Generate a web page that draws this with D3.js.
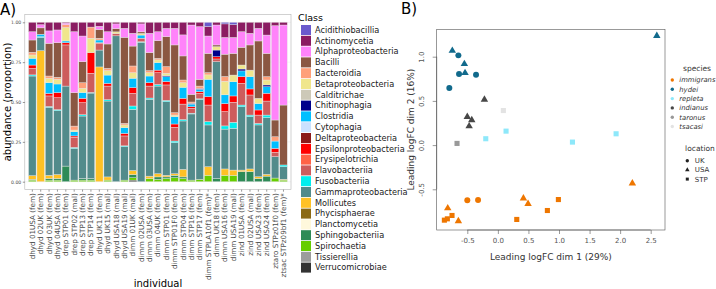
<!DOCTYPE html>
<html>
<head>
<meta charset="utf-8">
<script src="https://cdn.jsdelivr.net/npm/d3@7"></script>
<style>
  body { margin: 0; background: #fff; }
  svg { display: block; font-family: "DejaVu Sans", sans-serif; }
</style>
</head>
<body>
<div id="chart"></div>
<script>
// ---- data: panel A (class composition per individual) ----
const individuals = [
  "dhyd 01USA (fem)", "dhyd 02UK (fem)", "dhyd 03UK (fem)", "dhyd 04USA (fem)",
  "drep STP01 (fem)", "drep STP02 (mal)", "drep STP13 (fem)", "drep STP14 (fem)",
  "dhyd UK11 (fem)", "dhyd UK15 (mal)", "dhyd USA18 (mal)", "dhyd USA19 (mal)",
  "dimm 01UK (mal)", "dimm 02USA (fem)", "dimm 03USA (fem)", "dimm 04UK (fem)",
  "dimm STP01 (fem)", "dimm STP01F0 (fem)", "dimm STP04 (fem)", "dimm STP16 (fem)",
  "dimm STP17 (fem)", "dimm STPLA10f1 (fem)*", "dimm UK18 (fem)", "dimm USA16 (fem)",
  "dimm USA19 (mal)", "zind 01USA (fem)", "zind 02USA (mal)", "zind USA23 (fem)",
  "zind USA24 (fem)", "ztaro STPz01f0 (fem)", "ztsac STPz09bf1 (fem)*"
];

const classes = [
  "Acidithiobacillia", "Actinomycetia", "Alphaproteobacteria", "Bacilli", "Bacteroidia",
  "Betaproteobacteria", "Calditrichae", "Chitinophagia", "Clostridia", "Cytophagia",
  "Deltaproteobacteria", "Epsilonproteobacteria", "Erysipelotrichia", "Flavobacteriia",
  "Fusobacteriia", "Gammaproteobacteria", "Mollicutes", "Phycisphaerae", "Planctomycetia",
  "Sphingobacteriia", "Spirochaetia", "Tissierellia", "Verrucomicrobiae"
];
const classCodes = [
  "Aci", "Act", "Alp", "Bil", "Bac", "Bet", "Cal", "Chi", "Clo", "Cyt", "Del", "Eps",
  "Ery", "Fla", "Fus", "Gam", "Mol", "Phy", "Pla", "Sph", "Spi", "Tis", "Ver"
];
const classColors = [
  "#6a5acd", "#8b1c62", "#ff83fa", "#8b5742", "#ffa07a", "#f0e68c", "#cdc9b8", "#00008b",
  "#00bfff", "#cae1ff", "#8b1a1a", "#ff0000", "#ff6347", "#cd5c5c", "#00eeee", "#528b8b",
  "#ffc125", "#8b6914", "#fff8dc", "#2e8b57", "#66cd00", "#9c9c9c", "#333333"
];

// upper edge of each coloured segment, read bottom to top, one list per individual
const segmentTops = [
  [["Sph",.005],["Spi",.015],["Mol",.038],["Gam",.663],["Fus",.67],["Fla",.711],["Eps",.732],["Clo",.774],["Bet",.795],["Bac",.812],["Bil",.889],["Alp",.941],["Act",1]],
  [["Mol",.822],["Gam",.905],["Fus",.91],["Clo",.925],["Bil",.965],["Alp",.985],["Act",1]],
  [["Spi",.01],["Sph",.02],["Mol",.04],["Gam",.467],["Fus",.472],["Fla",.538],["Eps",.554],["Clo",.621],["Bet",.649],["Bac",.663],["Bil",.868],["Alp",.946],["Act",1]],
  [["Spi",.01],["Sph",.02],["Mol",.045],["Gam",.446],["Fus",.452],["Fla",.527],["Eps",.559],["Clo",.613],["Bet",.642],["Bac",.655],["Bil",.872],["Alp",.952],["Act",1]],
  [["Sph",.098],["Gam",.6],["Fla",.858],["Eps",.872],["Clo",.883],["Bet",.967],["Bac",.985],["Alp",.995],["Act",1]],
  [["Spi",.01],["Gam",.209],["Fus",.215],["Fla",.278],["Eps",.287],["Clo",.314],["Bet",.324],["Bac",.349],["Bil",.559],["Alp",.941],["Act",1]],
  [["Spi",.01],["Sph",.02],["Gam",.412],["Fus",.42],["Fla",.496],["Eps",.523],["Clo",.559],["Bet",.586],["Bac",.621],["Bil",.753],["Alp",.914],["Act",1]],
  [["Spi",.01],["Sph",.02],["Gam",.556],["Fus",.56],["Fla",.68],["Eps",.81],["Bet",.9],["Bac",.97],["Act",1]],
  [["Mol",.72],["Gam",.826],["Fla",.868],["Eps",.872],["Clo",.889],["Bac",.9],["Bil",.955],["Alp",.975],["Act",1]],
  [["Spi",.01],["Mol",.03],["Gam",.506],["Fus",.515],["Fla",.6],["Eps",.617],["Clo",.669],["Bet",.697],["Bac",.711],["Bil",.864],["Alp",.941],["Act",1]],
  [["Gam",.915],["Fla",.93],["Bet",.94],["Bil",.96],["Alp",.99],["Act",1]],
  [["Spi",.01],["Gam",.22],["Fus",.225],["Fla",.287],["Eps",.303],["Clo",.339],["Bet",.356],["Bac",.366],["Bil",.906],["Alp",.962],["Act",1]],
  [["Ver",.01],["Spi",.025],["Sph",.045],["Mol",.07],["Gam",.454],["Fus",.475],["Fla",.554],["Eps",.59],["Clo",.649],["Bet",.684],["Bac",.726],["Bil",.851],["Alp",.931],["Act",1]],
  [["Gam",.875],["Fus",.878],["Fla",.9],["Clo",.92],["Bet",.93],["Bil",.94],["Alp",.99],["Act",1]],
  [["Spi",.02],["Mol",.035],["Gam",.517],["Fus",.525],["Fla",.6],["Eps",.621],["Clo",.663],["Bet",.684],["Bac",.697],["Bil",.81],["Alp",.931],["Act",1]],
  [["Spi",.015],["Sph",.03],["Mol",.05],["Gam",.6],["Fus",.61],["Fla",.684],["Eps",.7],["Clo",.747],["Bet",.764],["Bac",.774],["Bil",.885],["Alp",.941],["Act",1]],
  [["Spi",.02],["Sph",.03],["Mol",.04],["Gam",.502],["Fus",.51],["Fla",.607],["Eps",.628],["Clo",.659],["Chi",.665],["Bet",.68],["Bac",.722],["Bil",.91],["Alp",.962],["Act",1]],
  [["Spi",.025],["Sph",.04],["Mol",.05],["Gam",.245],["Fus",.255],["Fla",.341],["Eps",.362],["Clo",.408],["Bet",.418],["Bac",.433],["Bil",.858],["Alp",.962],["Act",1]],
  [["Spi",.02],["Sph",.03],["Mol",.077],["Gam",.381],["Fus",.39],["Fla",.487],["Eps",.523],["Clo",.592],["Bet",.621],["Bac",.638],["Bil",.789],["Alp",.921],["Act",1]],
  [["Spi",.01],["Gam",.425],["Fus",.43],["Fla",.46],["Eps",.47],["Clo",.487],["Chi",.492],["Bac",.5],["Bil",.548],["Alp",.983],["Act",1]],
  [["Spi",.015],["Gam",.517],["Fus",.52],["Fla",.554],["Eps",.565],["Clo",.58],["Chi",.585],["Bac",.6],["Bil",.642],["Alp",.973],["Act",1]],
  [["Spi",.04],["Mol",.094],["Gam",.356],["Fus",.377],["Fla",.481],["Eps",.533],["Clo",.642],["Bet",.67],["Bac",.684],["Bil",.805],["Alp",.914],["Act",.973],["Aci",1]],
  [["Sph",.02],["Gam",.753],["Fla",.77],["Eps",.784],["Chi",.826],["Bet",.847],["Bil",.858],["Alp",.983],["Act",1]],
  [["Spi",.04],["Mol",.08],["Gam",.33],["Fus",.35],["Fla",.44],["Eps",.49],["Clo",.545],["Bet",.63],["Bac",.66],["Bil",.8],["Alp",.905],["Act",.99],["Aci",1]],
  [["Spi",.04],["Mol",.073],["Gam",.335],["Fus",.373],["Fla",.498],["Eps",.538],["Clo",.627],["Bet",.669],["Bil",.805],["Alp",.905],["Act",.985],["Aci",1]],
  [["Sph",.063],["Mol",.073],["Gam",.47],["Fus",.481],["Fla",.617],["Eps",.659],["Clo",.695],["Chi",.707],["Bet",.732],["Bil",.843],["Alp",.941],["Act",1]],
  [["Sph",.063],["Mol",.08],["Gam",.408],["Fus",.418],["Fla",.544],["Eps",.582],["Clo",.659],["Bet",.7],["Bil",.858],["Alp",.931],["Act",1]],
  [["Sph",.02],["Mol",.031],["Gam",.356],["Fus",.366],["Fla",.418],["Eps",.45],["Clo",.49],["Bet",.523],["Bil",.883],["Alp",.962],["Act",1]],
  [["Sph",.035],["Mol",.046],["Gam",.402],["Fus",.418],["Fla",.506],["Eps",.555],["Clo",.596],["Chi",.607],["Bet",.638],["Bac",.659],["Bil",.805],["Alp",.92],["Act",1]],
  [["Spi",.023],["Gam",.157],["Fla",.184],["Eps",.209],["Clo",.255],["Bac",.282],["Bil",.387],["Alp",.979],["Act",1]],
  [["Spi",.01],["Mol",.015],["Gam",.094],["Fus",.105],["Bil",.481],["Alp",.983],["Act",1]]
];

// ---- data: panel B (MDS plot) ----
const mdsX = [-0.745, -0.646, -0.548, -0.635, -0.537, -0.357, -0.794, 2.6,
  -0.22, -0.5, -0.427, -0.47, 0.09, -0.198, 0.134, 1.22, 1.934, -0.668,
  2.2, -0.5, -0.324, 0.418, 0.494, 0.99, 0.81, 0.309, -0.82, -0.646, -0.75, -0.826, -0.875];
const mdsY = [1.068, 1.015, 0.918, 0.805, 0.816, 0.797, 0.647, 1.237,
  0.515, 0.32, 0.282, 0.214, 0.391, 0.072, 0.158, 0.034, 0.128, 0.019,
  -0.432, -0.623, -0.62, -0.601, -0.665, -0.616, -0.74, -0.841, -0.714, -0.86, -0.796, -0.834, -0.849];
const mdsSpecies = ["hydei", "hydei", "hydei", "hydei", "hydei", "hydei", "hydei", "hydei",
  "indianus", "indianus", "indianus", "indianus", "tsacasi", "repleta", "repleta", "repleta", "repleta", "taronus",
  "immigrans", "immigrans", "immigrans", "immigrans", "immigrans", "immigrans", "immigrans", "immigrans",
  "immigrans", "immigrans", "immigrans", "immigrans", "immigrans"];
const mdsLocation = ["USA", "UK", "USA", "UK", "USA", "UK", "UK", "USA",
  "USA", "USA", "USA", "USA", "STP", "STP", "STP", "STP", "STP", "STP",
  "USA", "UK", "UK", "USA", "USA", "STP", "STP", "STP", "USA", "USA", "STP", "STP", "STP"];

const speciesNames = ["immigrans", "hydei", "repleta", "indianus", "taronus", "tsacasi"];
const speciesColors = ["#ee7600", "#116a8c", "#8ee8fa", "#474747", "#999999", "#e3e3e3"];
const locationNames = ["UK", "USA", "STP"];
const xTicksB = [-0.5, 0, 0.5, 1, 1.5, 2, 2.5];
const yTicksB = [-0.5, 0, 0.5, 1];
const yTicksA = [0, 0.25, 0.5, 0.75, 1];

const svg = d3.select('#chart')
    .append('svg')
    .attr('width', 716)
    .attr('height', 289);

// ================= panel A =================
const xA = d3.scaleBand().domain(individuals).range([24.8, 291]).paddingInner(0.1).paddingOuter(0.45);
const yA = d3.scaleLinear().domain([0, 1]).range([181.7, 22.3]);
const colorA = d3.scaleOrdinal().domain(classCodes).range(classColors);

// turn the read-off segment edges into one row of proportions per individual
const rows = individuals.map(function (ind, i) {
    const row = {individual: ind};
    classCodes.forEach(c => row[c] = 0);
    let prev = 0;
    segmentTops[i].forEach(function (s) {
        row[s[0]] = s[1] - prev;
        prev = s[1];
    });
    return row;
});
// ggplot stacks the first level on top, so the last class sits at the bottom
const stacked = d3.stack().keys(classCodes.slice().reverse())(rows);

const panelTop = yA(1.05), panelBottom = yA(-0.05);

svg.append('rect')
    .attr('x', 24.8).attr('y', panelTop)
    .attr('width', 266.2).attr('height', panelBottom - panelTop)
    .attr('fill', '#fff');

// grid
svg.append('g').selectAll('line')
    .data(yTicksA)
    .enter().append('line')
    .attr('x1', 24.8).attr('x2', 291)
    .attr('y1', d => yA(d)).attr('y2', d => yA(d))
    .attr('stroke', '#ebebeb').attr('stroke-width', 0.5);

svg.append('g')
    .selectAll('g')
    .data(stacked)
    .enter().append('g')
    .attr('fill', d => colorA(d.key))
    .selectAll('rect')
    .data(d => d.filter(p => p[1] - p[0] > 0.0005))
    .enter().append('rect')
    .attr('x', d => xA(d.data.individual))
    .attr('width', xA.bandwidth())
    .attr('y', d => yA(d[1]))
    .attr('height', d => yA(d[0]) - yA(d[1]))
    .attr('stroke', '#e6e6e6')
    .attr('stroke-width', 0.4);

svg.append('rect')
    .attr('x', 24.8).attr('y', panelTop)
    .attr('width', 266.2).attr('height', panelBottom - panelTop)
    .attr('fill', 'none').attr('stroke', '#b3b3b3').attr('stroke-width', 0.6);

const axisLeftA = svg.append('g')
    .attr('transform', 'translate(24.8,0)')
    .call(d3.axisLeft(yA).tickValues(yTicksA).tickFormat(d3.format('.2f')).tickSize(2).tickPadding(1.5))
    .attr('font-family', null);
axisLeftA.select('.domain').remove();
axisLeftA.selectAll('line').attr('stroke', '#333').attr('stroke-width', 0.5);
axisLeftA.selectAll('text').style('font-size', '4.6px').style('fill', '#4d4d4d');

const axisBottomA = svg.append('g')
    .attr('transform', `translate(0,${panelBottom})`)
    .call(d3.axisBottom(xA).tickSize(2))
    .attr('font-family', null);
axisBottomA.select('.domain').remove();
axisBottomA.selectAll('line').attr('stroke', '#333').attr('stroke-width', 0.5);
axisBottomA.selectAll('text')
    .attr('y', 0).attr('x', -3.5).attr('dy', '0.35em')
    .attr('transform', 'rotate(-90)')
    .style('text-anchor', 'end')
    .style('font-size', '7.2px')
    .style('fill', '#4d4d4d');

svg.append('text')
    .attr('x', 158).attr('y', 287)
    .style('text-anchor', 'middle')
    .style('font-size', '10px')
    .text('individual');

svg.append('text')
    .attr('transform', 'rotate(-90)')
    .attr('x', -102).attr('y', 11)
    .style('text-anchor', 'middle')
    .style('font-size', '10px')
    .text('abundance (proportion)');

svg.append('text')
    .attr('x', 0).attr('y', 15)
    .style('font-size', '15px')
    .text('A)');

// legend A
const legendA = svg.append('g').attr('id', 'legendA');
legendA.append('text')
    .attr('x', 298).attr('y', 21)
    .style('font-size', '9.5px')
    .text('Class');
const legendRows = legendA.selectAll('g')
    .data(classes)
    .enter().append('g')
    .attr('transform', (d, i) => `translate(301,${30 + i * 10.8})`);
legendRows.append('rect')
    .attr('x', 0).attr('y', -5)
    .attr('width', 10).attr('height', 10)
    .attr('fill', (d, i) => classColors[i]);
legendRows.append('text')
    .attr('x', 14).attr('y', 0)
    .attr('dy', '0.35em')
    .style('font-size', '8.2px')
    .style('fill', '#222')
    .text(d => d);

// ================= panel B =================
const xB = d3.scaleLinear().domain([-0.5, 2.5]).range([467.3, 650.7]);
const yB = d3.scaleLinear().domain([-0.5, 1]).range([189.3, 56.7]);
const colorB = d3.scaleOrdinal().domain(speciesNames).range(speciesColors);
const shapeB = d3.scaleOrdinal().domain(locationNames).range([d3.symbolCircle, d3.symbolTriangle, d3.symbolSquare]);
const sizeB = d3.scaleOrdinal().domain(locationNames).range([28, 24, 26]);

const frameB = {left: 436.7, right: 665, top: 29.3, bottom: 230};

svg.append('rect')
    .attr('x', frameB.left).attr('y', frameB.top)
    .attr('width', frameB.right - frameB.left).attr('height', frameB.bottom - frameB.top)
    .attr('fill', 'none').attr('stroke', '#555').attr('stroke-width', 0.6);

const pts = d3.range(mdsX.length);
svg.append('g')
    .selectAll('path')
    .data(pts)
    .enter().append('path')
    .attr('transform', i => `translate(${xB(mdsX[i])},${yB(mdsY[i])})`)
    .attr('d', i => d3.symbol().type(shapeB(mdsLocation[i])).size(sizeB(mdsLocation[i]))())
    .attr('fill', i => colorB(mdsSpecies[i]));

const axisBottomB = svg.append('g')
    .attr('transform', `translate(0,${frameB.bottom})`)
    .call(d3.axisBottom(xB).tickValues(xTicksB).tickFormat(d => d.toFixed(1)).tickSize(4).tickPadding(4))
    .attr('font-family', null);
axisBottomB.select('.domain').attr('d', `M${xB(-0.5)},0H${xB(2.5)}`).attr('stroke', '#555').attr('stroke-width', 0.6);
axisBottomB.selectAll('line').attr('stroke', '#555').attr('stroke-width', 0.6);
axisBottomB.selectAll('text').style('font-size', '7px').style('fill', '#555');

const axisLeftB = svg.append('g')
    .attr('transform', `translate(${frameB.left},0)`)
    .call(d3.axisLeft(yB).tickValues(yTicksB).tickFormat(d => d.toFixed(1)).tickSize(4))
    .attr('font-family', null);
axisLeftB.select('.domain').attr('d', `M0,${yB(-0.5)}V${yB(1)}`).attr('stroke', '#555').attr('stroke-width', 0.6);
axisLeftB.selectAll('line').attr('stroke', '#555').attr('stroke-width', 0.6);
axisLeftB.selectAll('text')
    .attr('x', null).attr('dy', null)
    .attr('transform', 'translate(-12.5,0) rotate(-90)')
    .style('text-anchor', 'middle')
    .style('font-size', '7px')
    .style('fill', '#555');

svg.append('text')
    .attr('x', (frameB.left + frameB.right) / 2).attr('y', 260)
    .style('text-anchor', 'middle')
    .style('font-size', '9px')
    .style('fill', '#333')
    .text('Leading logFC dim 1 (29%)');

svg.append('text')
    .attr('transform', 'rotate(-90)')
    .attr('x', -(frameB.top + frameB.bottom) / 2).attr('y', 414)
    .style('text-anchor', 'middle')
    .style('font-size', '9px')
    .style('fill', '#333')
    .text('Leading logFC dim 2 (16%)');

svg.append('text')
    .attr('x', 401).attr('y', 14)
    .style('font-size', '15px')
    .text('B)');

// legend B: species
const legendB = svg.append('g').attr('id', 'legendB');
legendB.append('text')
    .attr('x', 697).attr('y', 71)
    .style('text-anchor', 'middle')
    .style('font-size', '7.5px')
    .style('fill', '#333')
    .text('species');
const spRows = legendB.selectAll('g.sp')
    .data(speciesNames)
    .enter().append('g')
    .attr('class', 'sp')
    .attr('transform', (d, i) => `translate(672.3,${80 + i * 9.3})`);
spRows.append('circle')
    .attr('r', 1.7)
    .attr('fill', d => colorB(d));
spRows.append('text')
    .attr('x', 7).attr('dy', '0.35em')
    .style('font-size', '6.8px')
    .style('font-style', 'italic')
    .style('fill', '#333')
    .text(d => d);

// legend B: location
legendB.append('text')
    .attr('x', 700).attr('y', 151)
    .style('text-anchor', 'middle')
    .style('font-size', '7.5px')
    .style('fill', '#333')
    .text('location');
const locRows = legendB.selectAll('g.loc')
    .data(locationNames)
    .enter().append('g')
    .attr('class', 'loc')
    .attr('transform', (d, i) => `translate(687.3,${160.7 + i * 9.2})`);
locRows.append('path')
    .attr('d', d => d3.symbol().type(shapeB(d)).size(9)())
    .attr('fill', '#222');
locRows.append('text')
    .attr('x', 7.5).attr('dy', '0.35em')
    .style('font-size', '7px')
    .style('fill', '#333')
    .text(d => d);
</script>
</body>
</html>
